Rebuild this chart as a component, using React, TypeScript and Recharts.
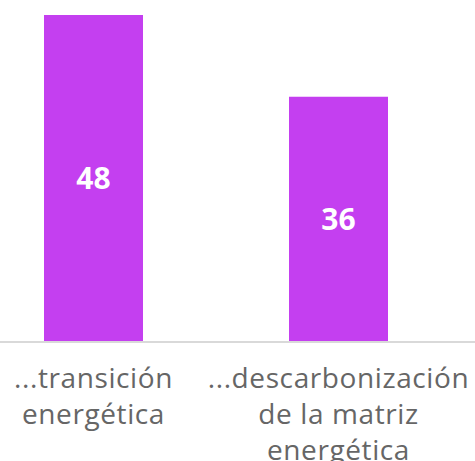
import { BarChart, Bar, XAxis, YAxis, LabelList } from "recharts";

const categories = ["...transición\nenergética", "...descarbonización\nde la matriz\nenergética"];
const values = [48, 36];

const data = categories.map((name, i) => ({ name, value: values[i] }));

const FONT = "'Open Sans', sans-serif";

function MultiLineTick(props: any) {
  const { x, y, payload } = props;
  const lines = String(payload.value).split("\n");
  return (
    <text
      x={x}
      y={y}
      textAnchor="middle"
      fill="#666666"
      fontFamily={FONT}
      fontSize={28}
      letterSpacing={0.6}
    >
      {lines.map((line, i) => (
        <tspan key={i} x={x} y={y + 46 + i * 36}>
          {line}
        </tspan>
      ))}
    </text>
  );
}

export default function App() {
  return (
    <div style={{ position: "fixed", left: 0, top: 0, width: 475, height: 461, overflow: "hidden", background: "#fff" }}>
      <div style={{ position: "absolute", left: -29, top: 0 }}>
        <BarChart
          width={504}
          height={461}
          data={data}
          margin={{ top: 15, right: 0, bottom: 0, left: 0 }}
        >
          <XAxis
            dataKey="name"
            height={119}
            padding={{ left: 0, right: 14 }}
            axisLine={{ stroke: "#d9d9d9", strokeWidth: 2 }}
            tickLine={false}
            tickSize={0}
            tickMargin={0}
            interval={0}
            tick={<MultiLineTick />}
          />
          <YAxis hide domain={[0, 48]} />
          <Bar dataKey="value" fill="#c43ff0" barSize={99} isAnimationActive={false}>
            <LabelList
              dataKey="value"
              position="center"
              fill="#ffffff"
              fontFamily={FONT}
              fontWeight={700}
              fontSize={30}
            />
          </Bar>
        </BarChart>
      </div>
    </div>
  );
}
